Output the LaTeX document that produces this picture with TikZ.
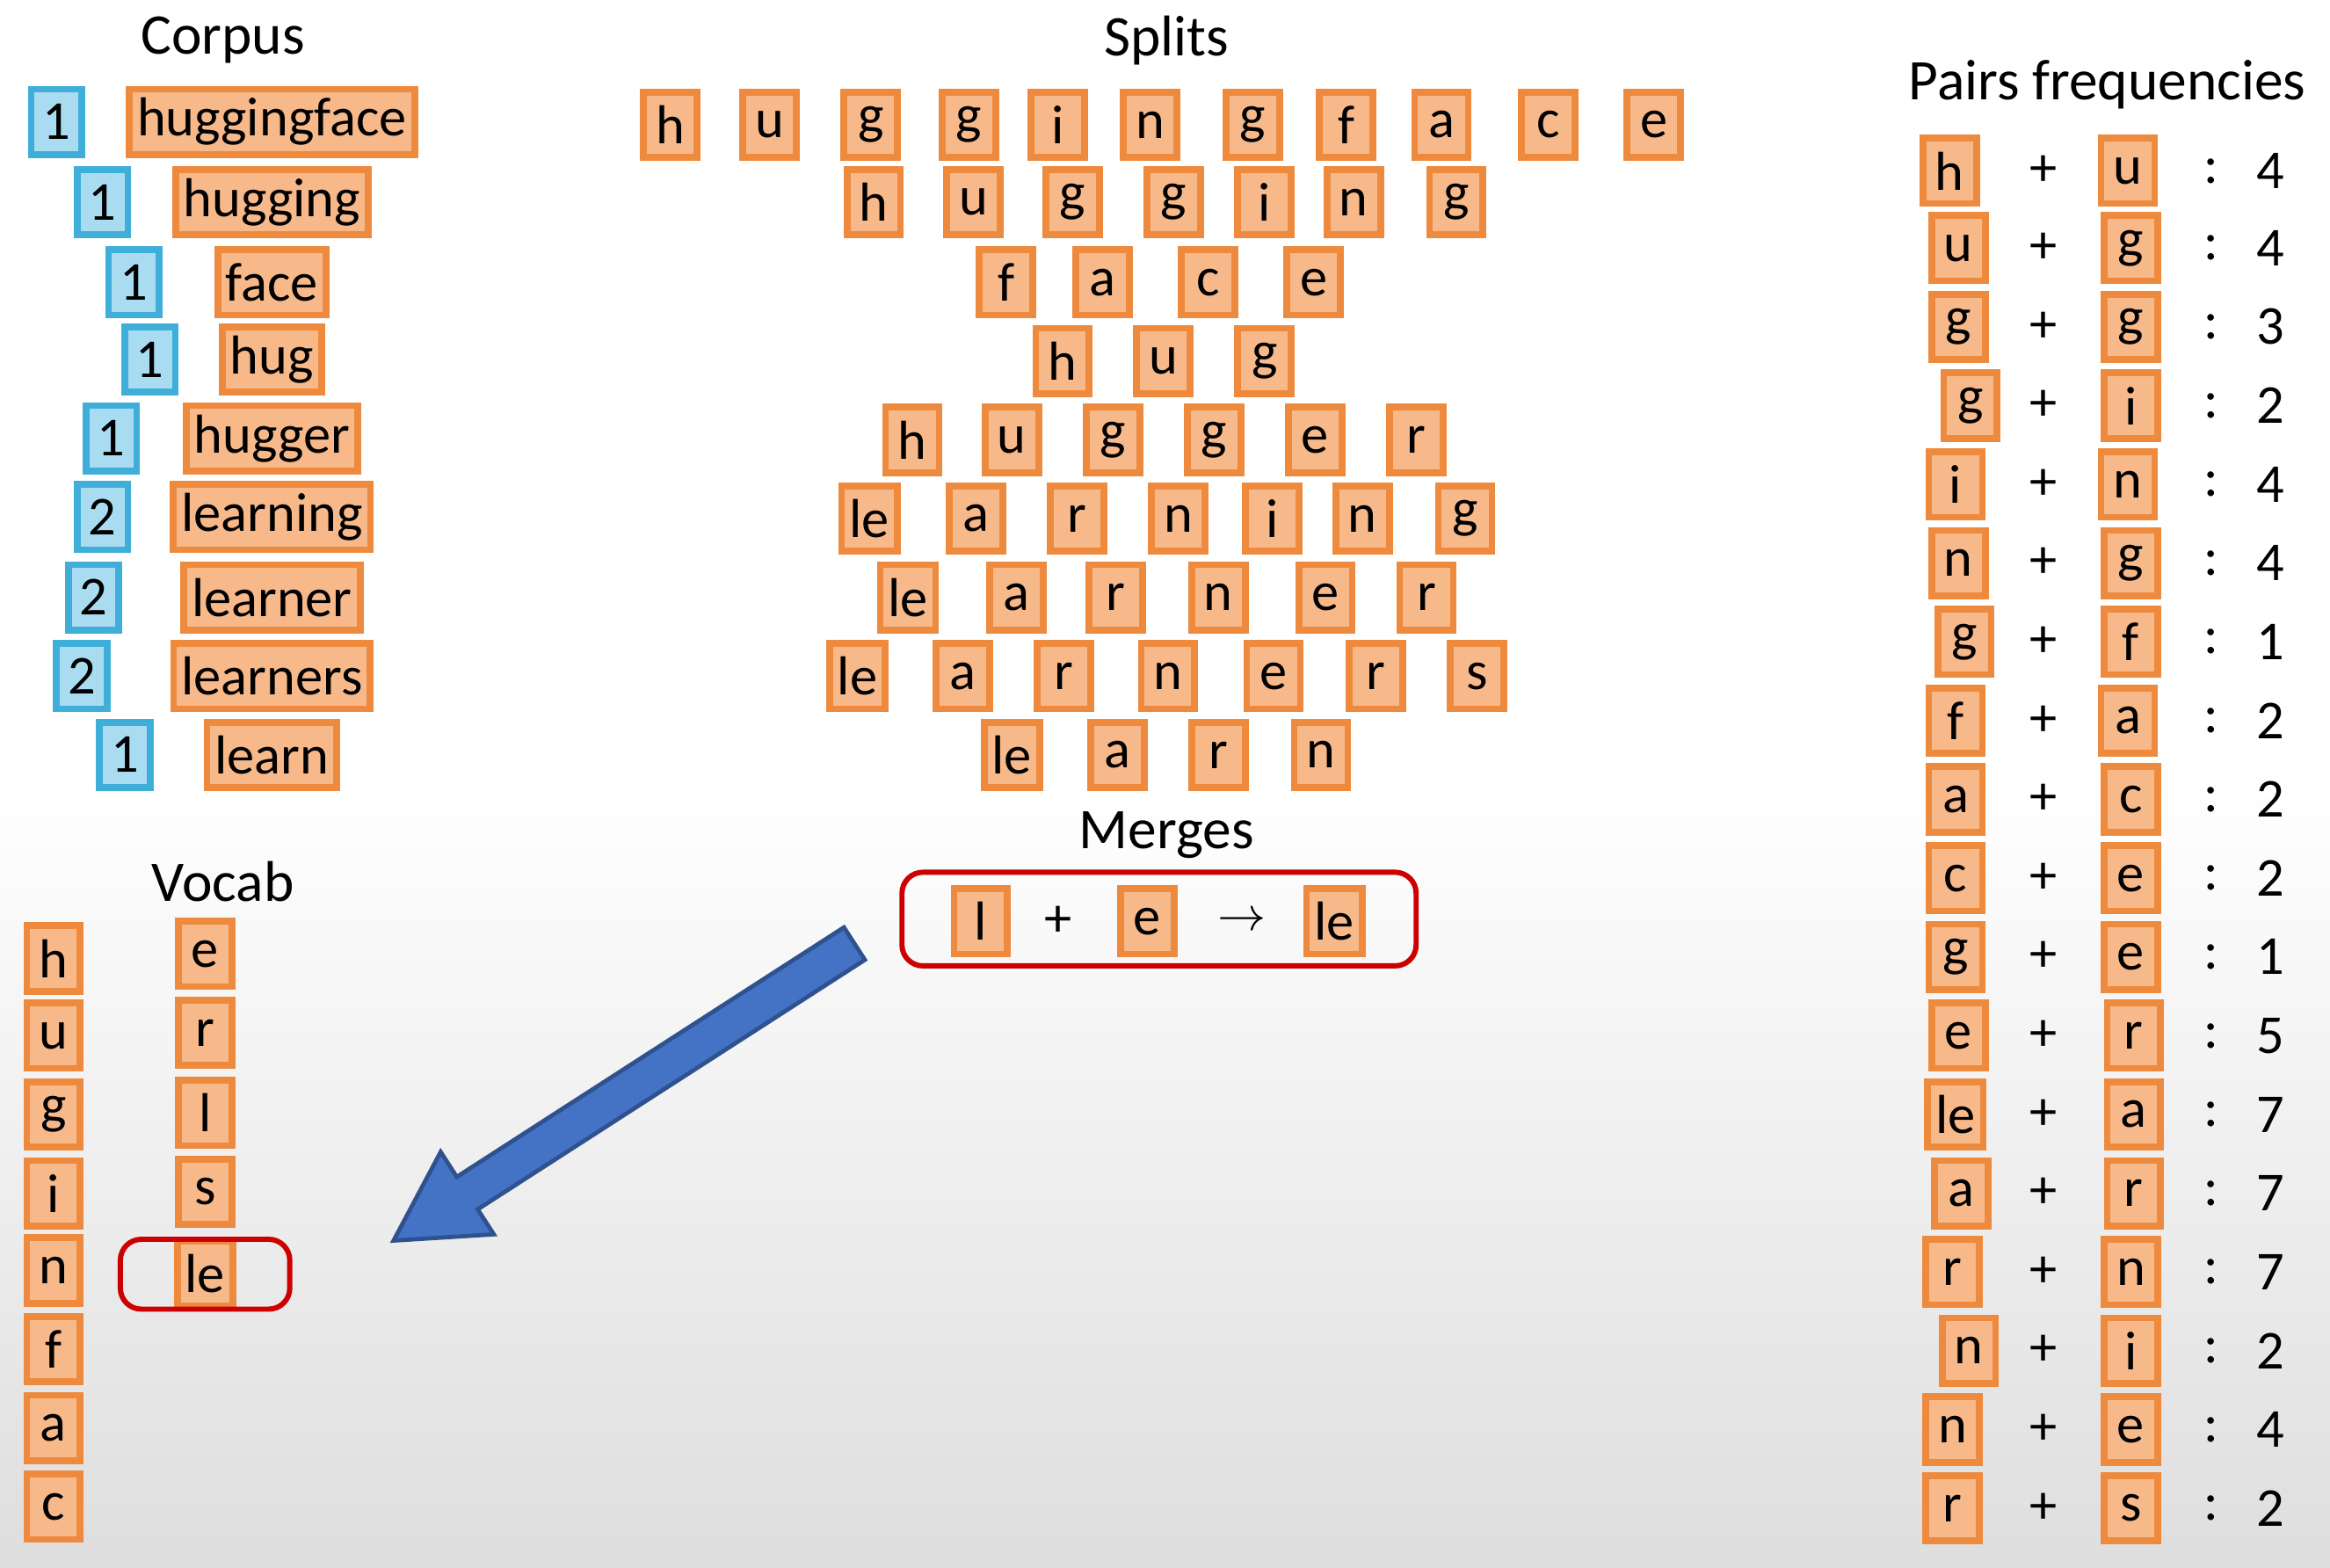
\documentclass[tikz,border=0pt]{standalone}
\usepackage{fontspec}
\setmainfont{Carlito}
\usetikzlibrary{positioning}
\definecolor{boxfill}{HTML}{F8B98A}
\definecolor{boxline}{HTML}{EE8A3E}
\definecolor{numfill}{HTML}{A9DCF0}
\definecolor{numline}{HTML}{3FAFDA}
\definecolor{arrowfill}{HTML}{4472C4}
\definecolor{arrowline}{HTML}{2F528F}
\begin{document}
\begin{tikzpicture}[x=0.01cm,y=-0.01cm,
  font=\fontsize{10.5}{12}\selectfont,
  tok/.style={draw=boxline,fill=boxfill,line width=1.3pt,minimum width=0.36cm,minimum height=0.44cm,inner sep=1.5pt},
  num/.style={draw=numline,fill=numfill,line width=1.3pt,minimum width=0.34cm,minimum height=0.44cm,inner sep=1.5pt},
  title/.style={font=\fontsize{11}{13}\selectfont},
  redbox/.style={draw=red!80!black,line width=1pt,rounded corners=4pt}]
	\useasboundingbox (0,0) rectangle (1568,1055);
	\shade[top color=white,bottom color=black!13,middle color=white] (0,0) rectangle (1568,1055);
	
	% corpus
	\node (tcorpus) [title] at (150,27) {Corpus};
	\foreach \n/\nx/\w/\y [count=\i] in {1/38/huggingface/82,1/69/hugging/136,1/90/face/190,1/101/hug/242,
	  1/75/hugger/295,2/69/learning/348,2/63/learner/402,2/55/learners/455,1/84/learn/508}{
		\node (c\i) [num] at (\nx,\y) {\n};
		\node (w\i) [tok] at (183,\y) {\w};
	}
	
	% splits
	\node (tsplits) [title] at (785,27) {Splits};
	\foreach \y/\row [count=\r] in {
	  84/{h/451,u/518,g/586,g/652,i/712,n/774,g/843,f/906,a/970,c/1042,e/1113},
	  136/{h/588,u/655,g/722,g/790,i/851,n/911,g/980},
	  190/{f/677,a/742,c/813,e/884},
	  243/{h/715,u/783,g/851},
	  296/{h/614,u/681,g/749,g/817,e/885,r/953},
	  349/{le/585,a/657,r/725,n/793,i/856,n/917,g/986},
	  402/{le/611,a/684,r/751,n/820,e/892,r/960},
	  455/{le/577,a/648,r/716,n/786,e/857,r/926,s/994},
	  508/{le/681,a/752,r/820,n/889}}{
		\foreach \t/\x [count=\i] in \row
			\node (s\r-\i) [tok] at (\x,\y) {\t};
	}
	
	% merges
	\node (tmerges) [title] at (785,562) {Merges};
	\node (m1) [tok] at (660,620) {l};
	\node (mplus) at (712,620) {+};
	\node (m2) [tok] at (772,620) {e};
	\node (mto) at (836,620) {\small$\to$};
	\node (m3) [tok] at (898,620) {le};
	\draw[redbox] (607,587) rectangle (953,650);
	
	% vocab
	\node (tvocab) [title] at (150,593) {Vocab};
	\foreach \t/\y [count=\i] in {h/645,u/697,g/750,i/803,n/855,f/908,a/961,c/1014}
		\node (v\i) [tok] at (36,\y) {\t};
	\foreach \t/\y [count=\i] in {e/642,r/695,l/749,s/802,le/857}
		\node (u\i) [tok] at (138,\y) {\t};
	\draw[redbox] (81,834) rectangle (195,881);
	
	% block arrow
	\begin{scope}[shift={(575,635)},rotate=212.8]
		\fill[arrowfill,draw=arrowline,line width=0.8pt,line join=miter]
		  (0,-13) -- (310,-13) -- (310,-33) -- (369,0) -- (310,33) -- (310,13) -- (0,13) -- cycle;
	\end{scope}
	
	% pairs
	\node (tpairs) [title] at (1418,57) {Pairs frequencies};
	\foreach \a/\ax/\b/\bx/\f/\y [count=\i] in {h/1312/u/1432/4/115,u/1318/g/1434/4/167,g/1318/g/1434/3/220,
	  g/1326/i/1434/2/273,i/1316/n/1432/4/326,n/1318/g/1434/4/379,g/1322/f/1434/1/432,f/1316/a/1432/2/485,
	  a/1316/c/1434/2/538,c/1316/e/1434/2/591,g/1316/e/1434/1/644,e/1318/r/1436/5/697,le/1316/a/1436/7/750,
	  a/1320/r/1436/7/803,r/1314/n/1434/7/856,n/1325/i/1434/2/909,n/1314/e/1434/4/962,r/1314/s/1434/2/1015}{
		\node (pa\i) [tok] at (\ax,\y) {\a};
		\node (pp\i) at (1375,\y) {+};
		\node (pb\i) [tok] at (\bx,\y) {\b};
		\node (pc\i) at (1488,\y) {:};
		\node (pf\i) at (1528,\y) {\f};
	}
\end{tikzpicture}
\end{document}
